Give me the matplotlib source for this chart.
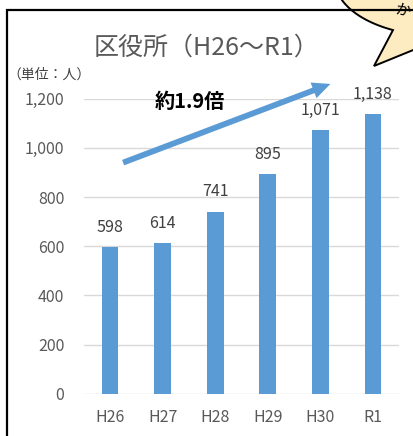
import numpy as np
import matplotlib
matplotlib.use('Agg')
import matplotlib.pyplot as plt
from matplotlib.patches import Polygon

plt.rcParams['font.family'] = ['Noto Sans CJK JP', 'DejaVu Sans']

# Data
categories = ['H26', 'H27', 'H28', 'H29', 'H30', 'R1']
visitors = [598, 614, 741, 895, 1071, 1138]
y_ticks = [0, 200, 400, 600, 800, 1000, 1200]
title = '区役所（H26～R1）'
unit_label = '（単位：人）'
ratio_label = '約1.9倍'

bar_color = '#5B9BD5'
text_gray = '#595959'

W, H = 413, 436
fig = plt.figure(figsize=(W / 100, H / 100), dpi=100)

# main chart
ax = fig.add_axes([83.7 / W, 1 - 393.7 / H, 315.6 / W, 295.0 / H])
x = np.arange(len(categories))
ax.bar(x, visitors, width=0.32, color=bar_color, zorder=3)
ax.set_xlim(-0.5, len(categories) - 0.5)
ax.set_ylim(0, 1200)
ax.set_yticks(y_ticks)
ax.set_yticklabels([f'{v:,}' for v in y_ticks])
ax.set_xticks(x)
ax.set_xticklabels(categories)
ax.tick_params(axis='both', length=0, labelsize=11.5, colors=text_gray)
ax.tick_params(axis='y', pad=14)
ax.tick_params(axis='x', pad=11)
ax.yaxis.grid(True, color='#D9D9D9', linewidth=1, zorder=0)
for s in ax.spines.values():
    s.set_visible(False)
ax.set_facecolor('none')

for xi, v in zip(x, visitors):
    ax.annotate(f'{v:,}', (xi, v), xytext=(0, 8), textcoords='offset points',
                ha='center', va='bottom', fontsize=11.5, color='#404040')

# trend arrow and label
ax.annotate('', xy=(4.24, 1264), xytext=(0.2, 936),
            arrowprops=dict(arrowstyle='simple,head_length=1.3,head_width=1.2,tail_width=0.42',
                            mutation_scale=10, color=bar_color, lw=0),
            annotation_clip=False)
ax.text(1.52, 1187, ratio_label, ha='center', va='center', fontsize=14.5,
        fontweight='bold', color='black', clip_on=False)

# overlay in pixel coordinates: frame, titles, speech bubble
ov = fig.add_axes([0, 0, 1, 1], zorder=5)
ov.set_xlim(0, W)
ov.set_ylim(H, 0)
ov.axis('off')
ov.patch.set_alpha(0)

ov.plot([7, 7, W + 5], [H + 5, 10, 10], color='black', lw=1.6,
        solid_joinstyle='miter', clip_on=False)
ov.text(207, 48, title, ha='center', va='center', fontsize=18, color=text_gray)
ov.text(7, 75, unit_label, ha='left', va='center', fontsize=10, color='#404040')

t = np.linspace(np.radians(172), np.radians(116.6), 40)
arc = np.column_stack([440 + 105 * np.cos(t), -20 + 56 * np.sin(t)])
tail = np.array([[374, 66], [450, 35], [450, -40], [330, -40]])
bubble = Polygon(np.vstack([arc, tail]), closed=True, facecolor='#FDEBC2',
                 edgecolor='black', lw=1.4, joinstyle='miter')
ov.add_patch(bubble)
ov.text(403, 11, 'か', ha='center', va='center', fontsize=11, color='black',
        rotation=-10)

fig.savefig('out.png', dpi=100)
